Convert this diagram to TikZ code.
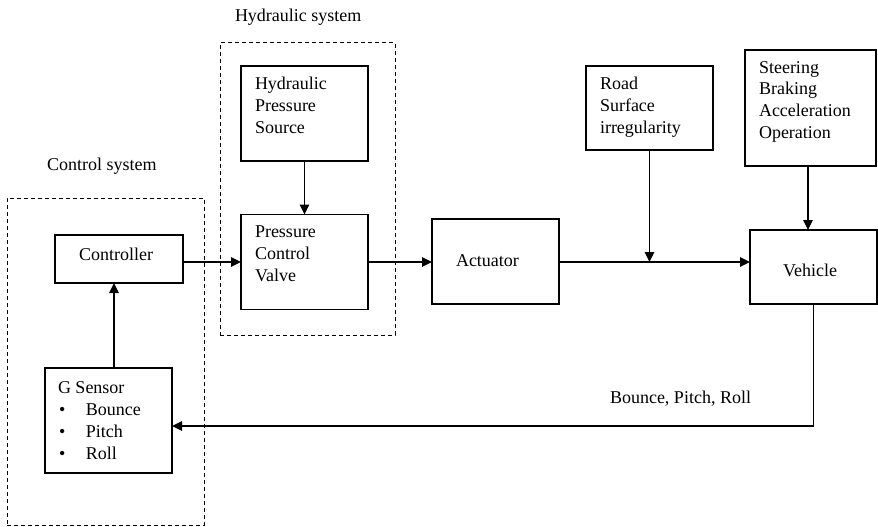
\documentclass[tikz,border=0pt]{standalone}
\usepackage{fontspec}
\setmainfont{Liberation Serif}
\usetikzlibrary{arrows.meta}
\tikzset{
  box/.style={draw, line width=1.3pt, rectangle, inner sep=0pt, outer sep=0pt},
  group/.style={draw, line width=1pt, dash pattern=on 4pt off 3pt, rectangle, inner sep=0pt, outer sep=0pt},
  txt/.style={inner sep=0pt, outer sep=0pt, align=left, anchor=base west,
    font=\fontsize{18}{21.6}\selectfont},
  arr/.style={line width=1.5pt, -{Triangle[length=10pt,width=9.5pt]}},
  wire/.style={line width=1.5pt}
}
\begin{document}
\begin{tikzpicture}[x=1pt,y=-1pt]
\useasboundingbox (0,0) rectangle (878,527);

% subsystem frames
\node[group, minimum width=197pt, minimum height=327pt] (ctlsys) at (105.5,361.5) {};
\node[group, minimum width=175pt, minimum height=292pt] (hydsys) at (307.5,189) {};
\node[txt] (ctltitle) at (47,170) {Control system};
\node[txt] (hydtitle) at (235,22) {Hydraulic system};

% blocks
\node[box, minimum width=128pt, minimum height=48pt]  (ctrl)  at (119,259) {};
\node[box, minimum width=127pt, minimum height=105pt] (gs)    at (108.5,420.5) {};
\node[box, minimum width=127pt, minimum height=95pt]  (hps)   at (304.5,113.5) {};
\node[box, minimum width=127pt, minimum height=95pt]  (pcv)   at (304.5,262) {};
\node[box, minimum width=127pt, minimum height=85pt]  (act)   at (495.5,261.5) {};
\node[box, minimum width=127pt, minimum height=84pt]  (road)  at (649.5,108) {};
\node[box, minimum width=131pt, minimum height=116pt] (steer) at (810.5,108) {};
\node[box, minimum width=127pt, minimum height=74pt]  (veh)   at (813.5,267) {};

% block texts (multi-line texts sit on the baseline of their last line)
\node[txt] (ctrltxt) at (79,260) {Controller};
\node[txt] (gstxt) at (58,393) {G Sensor};
\node[txt] (gsb1) at (58,415) {\makebox[28pt][l]{\hspace{1pt}\textbullet}Bounce};
\node[txt] (gsb2) at (58,437) {\makebox[28pt][l]{\hspace{1pt}\textbullet}Pitch};
\node[txt] (gsb3) at (58,459.5) {\makebox[28pt][l]{\hspace{1pt}\textbullet}Roll};
\node[txt] (hpstxt) at (255,133) {Hydraulic\\Pressure\\Source};
\node[txt] (pcvtxt) at (255,281) {Pressure\\Control\\Valve};
\node[txt] (acttxt) at (456,266) {Actuator};
\node[txt] (roadtxt) at (600,133) {Road\\Surface\\irregularity};
\node[txt] (steertxt) at (759,138) {Steering\\Braking\\Acceleration\\Operation};
\node[txt] (vehtxt) at (783,276) {Vehicle};
\node[txt] (fbtxt) at (610,403) {Bounce, Pitch, Roll};

% signal flow
\draw[arr] (pcv.west -| ctrl.east) -- (pcv.west);
\draw[arr] (hps.south) -- (pcv.north);
\draw[arr] (pcv.east) -- (pcv.east -| act.west);
\draw[arr] (pcv.east -| act.east) -- (pcv.east -| veh.west);
\coordinate (join) at (road.south |- pcv.east);
\draw[arr] (road.south) -- (join);
\draw[arr] ([xshift=-2.5pt]steer.south) -- ([xshift=-2.5pt]steer.south |- veh.north);
\draw[arr] (veh.south) |- ([yshift=-5.5pt]gs.east);
\draw[arr] ([xshift=5.5pt]gs.north) -- ([xshift=5.5pt]gs.north |- ctrl.south);
\end{tikzpicture}
\end{document}
